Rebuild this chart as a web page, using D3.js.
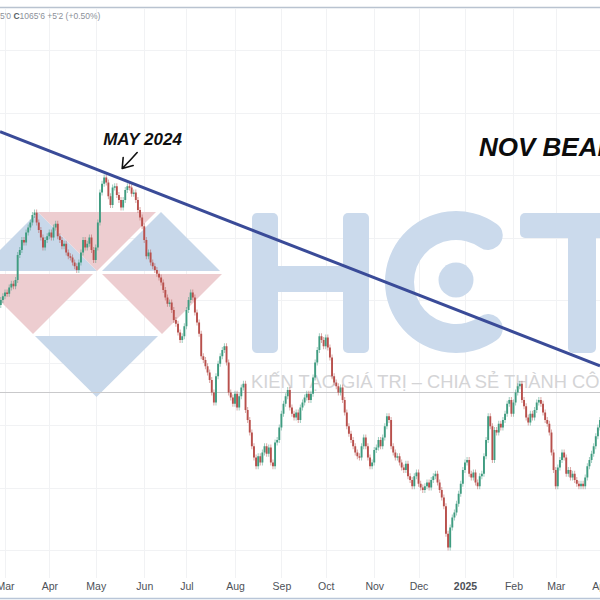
<!DOCTYPE html>
<html><head><meta charset="utf-8">
<script src="https://cdn.jsdelivr.net/npm/d3@7"></script>
<style>html,body{margin:0;padding:0;background:#fff;} svg{display:block;}</style>
</head><body><svg id="chart" width="600" height="600"></svg>
<script>
// ---- data (daily closes, cents/bu) ----
const firstOpen = 1146;
const closes = [
1150,1153,1156,1155,1160,1163,1161,1166,1186,1190,
1198,1196,1204,1208,1212,1218,1220,1212,1206,1200,
1192,1198,1201,1204,1200,1208,1211,1201,1198,1193,
1195,1188,1185,1184,1180,1177,1174,1180,1188,1198,
1192,1195,1200,1190,1182,1192,1212,1236,1243,1248,
1244,1233,1226,1240,1241,1234,1230,1224,1230,1238,
1241,1240,1235,1236,1230,1222,1216,1209,1198,1185,
1188,1180,1177,1174,1171,1168,1164,1158,1152,1147,
1148,1142,1134,1131,1124,1118,1121,1129,1142,1150,
1156,1152,1140,1132,1123,1105,1102,1097,1092,1086,
1076,1068,1089,1099,1105,1110,1113,1100,1076,1072,
1067,1075,1064,1073,1080,1083,1062,1054,1044,1033,
1024,1017,1025,1020,1028,1033,1027,1032,1020,1017,
1036,1038,1048,1059,1067,1073,1078,1064,1059,1056,
1060,1054,1064,1068,1072,1075,1070,1075,1088,1100,
1110,1121,1118,1113,1120,1112,1104,1089,1084,1081,
1076,1080,1070,1060,1049,1043,1038,1033,1028,1025,
1024,1033,1040,1033,1024,1017,1020,1030,1032,1038,
1033,1040,1049,1057,1054,1033,1028,1024,1025,1020,
1016,1014,1019,1009,1006,1001,1009,1012,1003,1000,
998,1001,1004,1000,1006,1009,1011,1004,998,992,
985,963,952,968,976,980,987,995,1003,1014,
1020,1022,1011,1008,1012,1004,1001,1009,1011,1025,
1038,1057,1049,1022,1046,1044,1051,1048,1054,1059,
1067,1070,1059,1068,1076,1081,1083,1070,1065,1056,
1052,1059,1056,1062,1068,1070,1067,1060,1054,1051,
1044,1028,1014,1001,1016,1022,1028,1024,1011,1014,
1008,1011,1006,1003,1001,1003,1001,1008,1017,1022,
1027,1033,1041,1048,1054
];
const firstDate = [2024, 1, 28];           // Feb 28, 2024 (first bar)
const monthLabels = ["Mar","Apr","May","Jun","Jul","Aug","Sep","Oct","Nov","Dec","2025","Feb","Mar","Apr"];
const trendStart = {bar: 0, price: 1284.4};   // resistance line
const trendEnd = {bar: 284, price: 1097.4};
const refLevel = 1076.4;
const peakBar = 49;                          // MAY 2024 top
const headerParts = [["5'0 ", "#8b9099", 400], ["C", "#5a5f66", 700], ["1065'6 ", "#8b9099", 400], ["+5'2 (+0.50%)", "#8b9099", 400]];

// ---- layout ----
const W = 600, H = 600;
const svg = d3.select("#chart");
const x = d3.scaleLinear().domain([-0.37, 284]).range([0, W]);
const y = d3.scaleLinear().domain([910, 1390]).range([H, 0]);

// trading days
const dates = [];
{ const d = new Date(firstDate[0], firstDate[1], firstDate[2]);
  while (dates.length < closes.length) { const wd = d.getDay(); if (wd !== 0 && wd !== 6) dates.push(new Date(d)); d.setDate(d.getDate() + 1); } }
const ticks = [];
for (let j = 1; j < dates.length; j++) if (dates[j].getMonth() !== dates[j-1].getMonth()) ticks.push(j);

const candles = closes.map((c, j) => ({ j, o: j === 0 ? firstOpen : closes[j-1], c }));

svg.append("rect").attr("width", W).attr("height", H).attr("fill", "#fff");

// grid
const grid = svg.append("g").attr("stroke", "#f1f2f4").attr("stroke-width", 1);
grid.selectAll(".vg").data(ticks).join("line").attr("x1", d => Math.round(x(d)) + 0.5).attr("x2", d => Math.round(x(d)) + 0.5).attr("y1", 9).attr("y2", 578);
grid.selectAll(".hg").data(d3.range(950, 1351, 50)).join("line").attr("y1", d => Math.round(y(d)) + 0.5).attr("y2", d => Math.round(y(d)) + 0.5).attr("x1", 0).attr("x2", W);

// watermark
const wm = svg.append("g");
const pink = "#edcdd0", blue = "#c8d8ea", letter = "#cbdaec";
const tri = [
  [[-21,271],[38,212],[97,271], blue],
  [[38,212],[156,212],[97,271], pink],
  [[102,271],[161,212],[220,271], blue],
  [[-27,274],[93,274],[33,334], pink],
  [[102,274],[222,274],[162,334], pink],
  [[35,336],[158,336],[96.5,397], blue]
];
wm.selectAll(".tri").data(tri).join("path")
  .attr("d", t => "M" + t.slice(0,3).map(p => p.join(",")).join("L") + "Z").attr("fill", t => t[3]);
// H
wm.append("rect").attr("x", 252).attr("y", 213).attr("width", 26).attr("height", 140).attr("rx", 5).attr("fill", letter);
wm.append("rect").attr("x", 343).attr("y", 213).attr("width", 26).attr("height", 140).attr("rx", 5).attr("fill", letter);
wm.append("rect").attr("x", 276).attr("y", 266).attr("width", 69).attr("height", 26).attr("fill", letter);
// C
wm.append("path").attr("transform", "translate(456,282)")
  .attr("d", d3.arc().innerRadius(42).outerRadius(71).startAngle(2.28).endAngle(2 * Math.PI + 0.86).cornerRadius(14)())
  .attr("fill", letter);
wm.append("circle").attr("cx", 456).attr("cy", 280).attr("r", 17.5).attr("fill", letter);
// T
wm.append("rect").attr("x", 520).attr("y", 213).attr("width", 130).attr("height", 25).attr("rx", 5).attr("fill", letter);
wm.append("rect").attr("x", 568).attr("y", 213).attr("width", 28).attr("height", 140).attr("rx", 5).attr("fill", letter);
wm.append("text").attr("x", 251).attr("y", 388).attr("font-family", "Liberation Sans, Arial, sans-serif")
  .attr("font-size", 18.3).attr("fill", "#d4d4d6").text("KIẾN TẠO GIÁ TRỊ – CHIA SẺ THÀNH CÔNG");

// reference level line
svg.append("line").attr("x1", 0).attr("x2", W).attr("y1", Math.round(y(refLevel)) + 0.5).attr("y2", Math.round(y(refLevel)) + 0.5)
  .attr("stroke", "#c9c9cb").attr("stroke-width", 1);

// candles
const up = "#3f9c80", dn = "#b8504c";
const cg = svg.append("g");
cg.selectAll(".wick").data(candles).join("line")
  .attr("x1", d => x(d.j)).attr("x2", d => x(d.j))
  .attr("y1", d => y(Math.max(d.o, d.c)) - 3).attr("y2", d => y(Math.min(d.o, d.c)) + 3)
  .attr("stroke", d => d.c >= d.o ? up : dn).attr("stroke-opacity", 0.5).attr("stroke-width", 1);
cg.selectAll(".body").data(candles).join("rect")
  .attr("x", d => x(d.j) - 0.95).attr("width", 1.9)
  .attr("y", d => y(Math.max(d.o, d.c)))
  .attr("height", d => Math.max(1.5, Math.abs(y(d.o) - y(d.c))))
  .attr("fill", d => d.c >= d.o ? up : dn);

// trend line
const slope = (trendEnd.price - trendStart.price) / (trendEnd.bar - trendStart.bar);
const tp = b => trendStart.price + slope * (b - trendStart.bar);
const b0 = x.domain()[0], b1 = x.domain()[1];
svg.append("line").attr("x1", x(b0)).attr("y1", y(tp(b0))).attr("x2", x(b1)).attr("y2", y(tp(b1)))
  .attr("stroke", "#3a4b98").attr("stroke-width", 3);

// annotations
const px = x(peakBar), py = y(closes[peakBar]);
svg.append("text").attr("x", px - 1).attr("y", py - 33).attr("font-family", "Liberation Sans, Arial, sans-serif")
  .attr("font-weight", 700).attr("font-style", "italic").attr("font-size", 17).attr("fill", "#111").text("MAY 2024");
svg.append("path").attr("d", `M${px+33},${py-25} Q${px+26},${py-17} ${px+18},${py-9} M${px+18},${py-9} L${px+19},${py-20} M${px+18},${py-9} L${px+29},${py-12}`)
  .attr("fill", "none").attr("stroke", "#111").attr("stroke-width", 1.6).attr("stroke-linecap", "round");
svg.append("text").attr("x", 479).attr("y", 156).attr("font-family", "Liberation Sans, Arial, sans-serif")
  .attr("font-weight", 700).attr("font-style", "italic").attr("font-size", 26).attr("fill", "#0c0c0c").text("NOV BEAR");

// header
svg.append("line").attr("x1", 0).attr("x2", W).attr("y1", 7.5).attr("y2", 7.5).attr("stroke", "#b9c3d0").attr("stroke-width", 1.5);
const ht = svg.append("text").attr("x", 0).attr("y", 18.5).attr("font-family", "Liberation Sans, Arial, sans-serif").attr("font-size", 8.5);
headerParts.forEach(p => ht.append("tspan").attr("fill", p[1]).attr("font-weight", p[2]).attr("xml:space", "preserve").text(p[0]));

// x axis
const ax = svg.append("g").attr("transform", "translate(0,583)")
  .call(d3.axisBottom(x).tickValues(ticks).tickFormat((d, i) => monthLabels[i]).tickSize(0).tickPadding(0));
ax.select(".domain").remove();
ax.selectAll("text").attr("font-family", "Liberation Sans, Arial, sans-serif").attr("font-size", 10.5).attr("fill", "#4d5158")
  .attr("font-weight", (d, i) => monthLabels[i] === "2025" ? 700 : 400);
svg.append("line").attr("x1", 0).attr("x2", W).attr("y1", 598.5).attr("y2", 598.5).attr("stroke", "#b9c6d8").attr("stroke-width", 1.5);
</script></body></html>
